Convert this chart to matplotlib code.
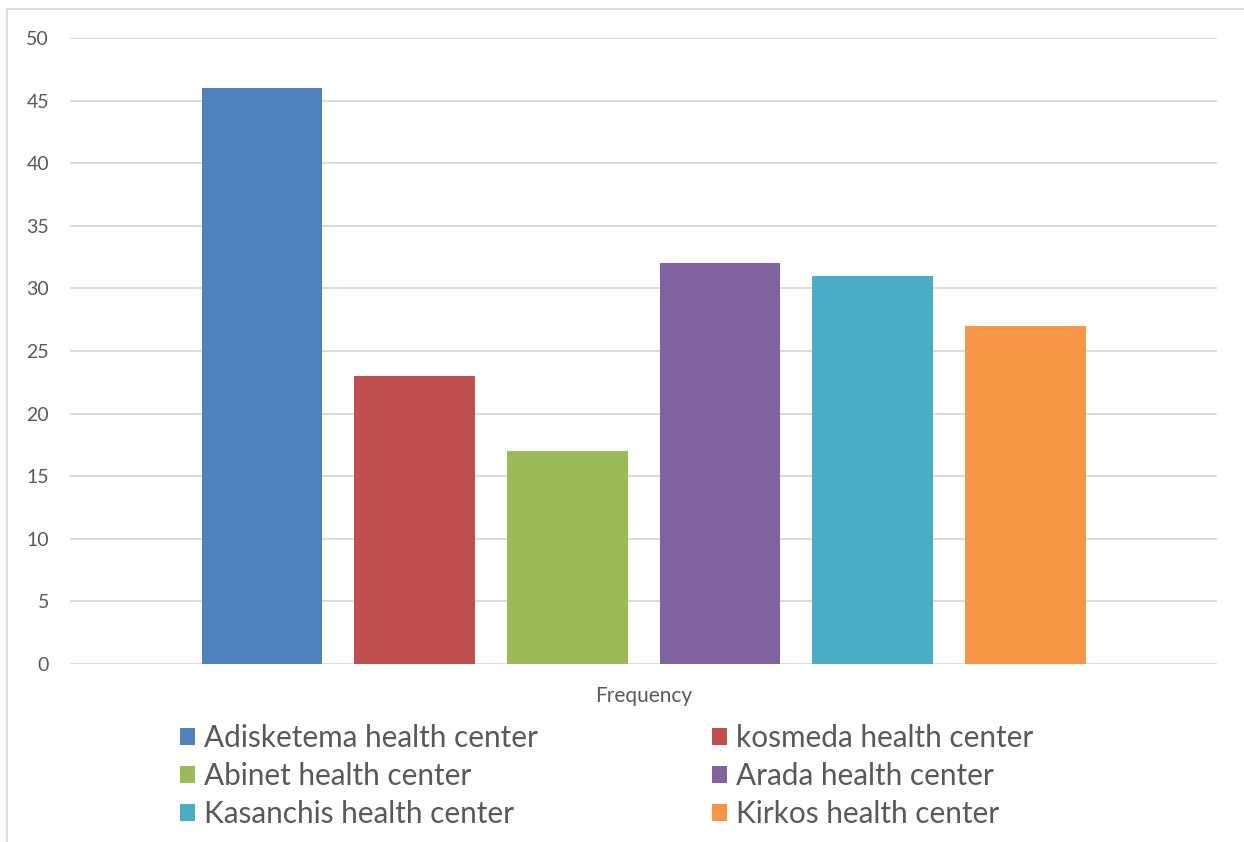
import matplotlib.pyplot as plt
from matplotlib.patches import Patch
from matplotlib.lines import Line2D

centers = ["Adisketema health center", "kosmeda health center", "Abinet health center",
           "Arada health center", "Kasanchis health center", "Kirkos health center"]
freq = [46, 23, 17, 32, 31, 27]
colors = ["#4F81BD", "#C0504D", "#9BBB59", "#8064A2", "#4BACC6", "#F79646"]
yticks = [0, 5, 10, 15, 20, 25, 30, 35, 40, 45, 50]
xlabel = "Frequency"

plt.rcParams['font.family'] = ['Lato', 'DejaVu Sans']
txt = "#595959"
grid = "#D9D9D9"

fig = plt.figure(figsize=(12.44, 8.42), dpi=100)
ax = fig.add_axes([70/1244, 1 - 664/842, 1147/1244, (664-38)/842])

for i, (v, c) in enumerate(zip(freq, colors)):
    ax.bar(i, v, width=0.79, color=c, zorder=3)

ax.set_xlim(-1.257, 6.255)
ax.set_ylim(0, 50)
ax.set_yticks(yticks)
ax.set_xticks([])
ax.grid(axis='y', color=grid, lw=1.3, zorder=0)
for s in ax.spines.values():
    s.set_visible(False)
ax.tick_params(axis='y', length=0, pad=15, labelsize=14, labelcolor=txt)
ax.set_xlabel(xlabel, fontsize=15, color=txt, labelpad=16)

# chart border (top and left only visible)
fig.add_artist(Line2D([7/1244, 7/1244], [0, 1 - 9/842], color=grid, lw=1.3))
fig.add_artist(Line2D([7/1244, 1], [1 - 9/842, 1 - 9/842], color=grid, lw=1.3))

handles = [Patch(facecolor=c, label=n) for n, c in zip(centers, colors)]
order = [0, 2, 4, 1, 3, 5]
leg = fig.legend([handles[k] for k in order], [centers[k] for k in order],
                 ncol=2, loc='upper left', bbox_to_anchor=(180/1244, 1 - 724/842),
                 frameon=False, fontsize=21.4, labelcolor=txt,
                 handlelength=0.51, handleheight=0.51, handletextpad=0.3,
                 columnspacing=5.85, labelspacing=0.34, borderpad=0, borderaxespad=0)

fig.savefig("out.png", dpi=100)
